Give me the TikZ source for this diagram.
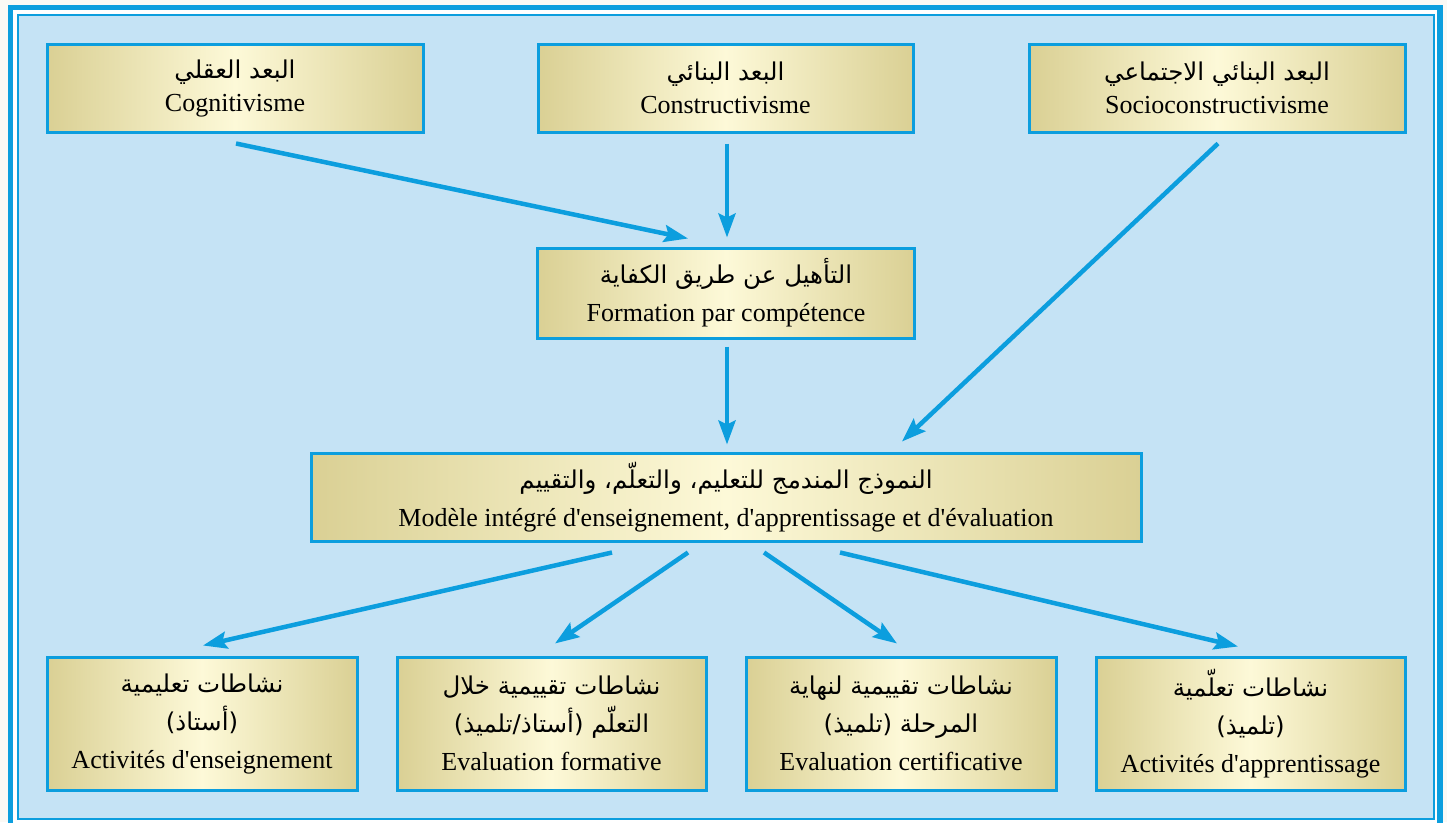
\documentclass[tikz,border=0pt]{standalone}
\usepackage{fontspec}
\setmainfont{Liberation Serif}
\newfontfamily\arabicfont[Script=Arabic]{DejaVu Sans}
\TeXXeTstate=1
\usetikzlibrary{arrows.meta,calc}
\definecolor{frameblue}{RGB}{12,158,222}
\definecolor{bgblue}{RGB}{197,227,245}
\definecolor{boxtan}{RGB}{218,208,148}
\definecolor{boxcream}{RGB}{253,249,216}
\definecolor{pagebg}{RGB}{250,249,245}
\newcommand{\artxt}[1]{{\arabicfont\fontsize{24.5}{38}\selectfont\beginR #1\endR}}
\newcommand{\q}{\textquotesingle}
\tikzset{
  box/.style={draw=frameblue, line width=3pt, left color=boxtan, right color=boxtan,
    middle color=boxcream, inner sep=0pt, align=center,
    font=\fontsize{26}{38}\selectfont},
  link/.style={draw=frameblue, line width=4.5pt,
    -{Stealth[length=24pt,width=17pt,inset=4pt]}},
}
\begin{document}
\begin{tikzpicture}[x=1pt,y=-1pt]
\useasboundingbox (0,0) rectangle (1447,822);
\fill[pagebg] (0,0) rectangle (1447,822);
% frame
\fill[white] (10.5,7.5) rectangle (1440,830);
\draw[frameblue, line width=5.5pt] (10.5,7.5) rectangle (1440,830);
\fill[bgblue] (17.5,14.5) rectangle (1434,819);
\draw[frameblue, line width=2pt] (17.5,14.5) rectangle (1434,819);
% top boxes
\node[box, minimum width=376pt, minimum height=88pt] (b1) at (235,88)
  {\artxt{البعد العقلي}\\[-5pt]Cognitivisme};
\node[box, minimum width=375pt, minimum height=88pt] (b2) at (725.5,88)
  {\artxt{البعد البنائي}\\[-5pt]Constructivisme};
\node[box, minimum width=376pt, minimum height=88pt] (b3) at (1217,88)
  {\artxt{البعد البنائي الاجتماعي}\\[-5pt]Socioconstructivisme};
\node[box, minimum width=377pt, minimum height=90pt] (f) at (726,293)
  {\artxt{التأهيل عن طريق الكفاية}\\Formation par compétence};
\node[box, minimum width=830pt, minimum height=88pt] (m) at (726,497)
  {\artxt{النموذج المندمج للتعليم، والتعلّم، والتقييم}\\Modèle intégré d\q enseignement, d\q apprentissage et d\q évaluation};
% bottom boxes
\node[box, minimum width=310pt, minimum height=133pt] (c1) at (202,723.5)
  {\artxt{نشاطات تعليمية}\\\artxt{(أستاذ)}\\Activités d\q enseignement};
\node[box, minimum width=309pt, minimum height=133pt] (c2) at (551.5,723.5)
  {\artxt{نشاطات تقييمية خلال}\\\artxt{التعلّم (أستاذ/تلميذ)}\\Evaluation formative};
\node[box, minimum width=310pt, minimum height=133pt] (c3) at (901,723.5)
  {\artxt{نشاطات تقييمية لنهاية}\\\artxt{المرحلة (تلميذ)}\\Evaluation certificative};
\node[box, minimum width=309pt, minimum height=133pt] (c4) at (1250.5,723.5)
  {\artxt{نشاطات تعلّمية}\\\artxt{(تلميذ)}\\Activités d\q apprentissage};
% connectors
\draw[link] ($(b1.south)+(1,10)$) -- ($(f.north)+(-38,-8)$);
\draw[link] ($(b2.south)+(1.5,10)$) -- ($(f.north)+(1,-9)$);
\draw[link] ($(b3.south)+(1,10)$) -- ($(m.north)+(176,-10)$);
\draw[link] ($(f.south)+(1,7)$) -- ($(m.north)+(1,-7)$);
\draw[link] ($(m.south)+(-114,10)$) -- ($(c1.north)+(1,-10)$);
\draw[link] ($(m.south)+(-38,10)$) -- ($(c2.north)+(3.5,-12)$);
\draw[link] ($(m.south)+(38,10)$) -- ($(c3.north)+(-4,-12)$);
\draw[link] ($(m.south)+(114,10)$) -- ($(c4.north)+(-12.5,-9)$);
\end{tikzpicture}
\end{document}
